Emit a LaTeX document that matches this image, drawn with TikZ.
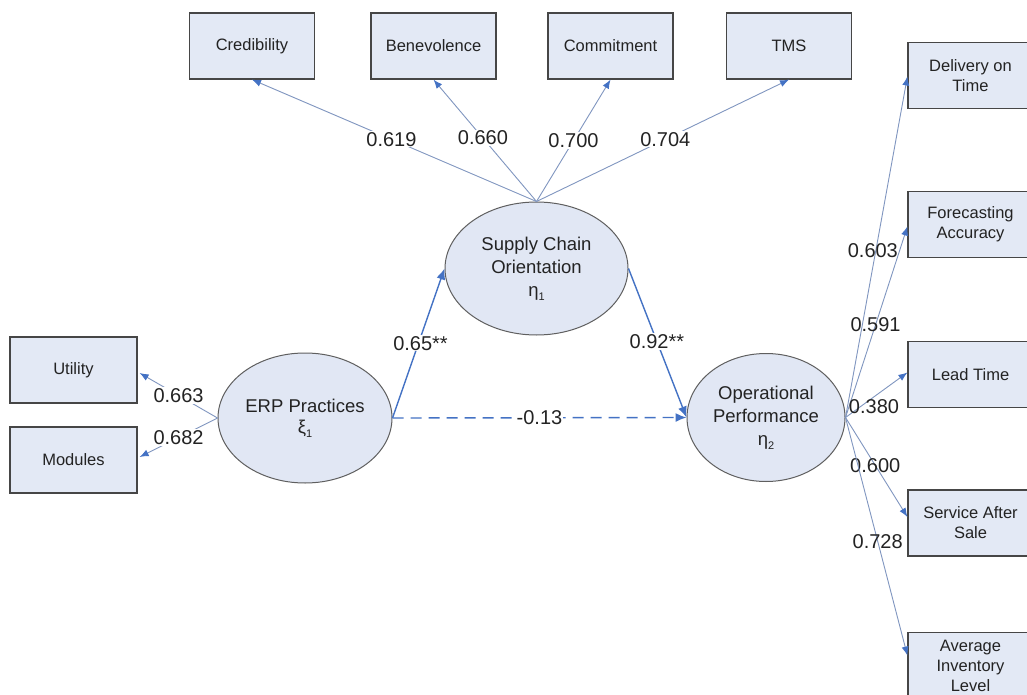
\documentclass[tikz,border=0pt]{standalone}
\usepackage{fontspec}
\setmainfont{Liberation Sans}
\usetikzlibrary{arrows.meta,calc,shapes.geometric}
\definecolor{boxfill}{RGB}{227,233,245}
\definecolor{ellfill}{RGB}{225,231,244}
\definecolor{boxline}{RGB}{70,70,70}
\definecolor{ellline}{RGB}{95,95,95}
\definecolor{thinline}{RGB}{128,150,192}
\definecolor{mainblue}{RGB}{68,114,196}
\definecolor{txt}{RGB}{35,35,35}
\newcommand{\mysub}[1]{\raisebox{-0.45ex}{\fontsize{11}{11}\selectfont #1}}
\begin{document}
\begin{tikzpicture}[x=1pt,y=-1pt,
  obs/.style={draw=boxline, line width=1.2pt, fill=boxfill, minimum width=125pt, minimum height=66pt,
    inner sep=0pt, align=center, font=\fontsize{16.5}{20}\selectfont, text=txt},
  lat/.style={ellipse, draw=ellline, line width=1pt, fill=ellfill, inner sep=0pt, align=center,
    font=\fontsize{18.5}{23}\selectfont, text=txt},
  load/.style={draw=thinline, line width=0.9pt, -{Latex[length=9pt,width=7pt,color=mainblue]}},
  path/.style={draw=mainblue, line width=1.4pt, -{Latex[length=11pt,width=9pt]}},
  lab/.style={font=\fontsize{20}{20}\selectfont, text=txt, fill=white, inner sep=1pt},
  labnf/.style={font=\fontsize{20}{20}\selectfont, text=txt, inner sep=1pt}
]
\useasboundingbox (0,0) rectangle (1027,695);
\fill[white] (0,0) rectangle (1027,695);
\clip (0,0) rectangle (1027,695);

% observed indicators (top)
\node[obs] (cred) at (252,46) {Credibility};
\node[obs] (bene) at (433.5,46) {Benevolence};
\node[obs] (comm) at (610.5,46) {Commitment};
\node[obs] (tms)  at (789,46) {TMS};

% observed indicators (left)
\node[obs, minimum width=127pt] (util) at (73.5,370) {Utility};
\node[obs, minimum width=127pt] (mod)  at (73.5,460) {Modules};

% observed indicators (right)
\node[obs] (del) at (970.5,75.5) {Delivery on\\Time};
\node[obs] (fc)  at (970.5,224.5) {Forecasting\\Accuracy};
\node[obs] (lt)  at (970.5,374.5) {Lead Time};
\node[obs] (sas) at (970.5,523) {Service After\\Sale};
\node[obs] (avg) at (970.5,665.5) {Average\\Inventory\\Level};

% latent variables
\node[lat, minimum width=174pt, minimum height=130pt] (erp) at (305,418) {ERP Practices\\[-2pt]ξ\mysub{1}};
\node[lat, minimum width=183pt, minimum height=133pt] (sco) at (536.5,268.5) {Supply Chain\\Orientation\\η\mysub{1}};
\node[lat, minimum width=158pt, minimum height=128pt] (op) at (766,417.5) {Operational\\Performance\\η\mysub{2}};

% loadings top
\draw[load] (sco.north) -- node[lab,pos=.51]{0.619} (cred.south);
\draw[load] (sco.north) -- node[lab,pos=.52]{0.660} (bene.south);
\draw[load] (sco.north) -- node[lab,pos=.50]{0.700} (comm.south);
\draw[load] (sco.north) -- node[lab,pos=.51]{0.704} (tms.south);

% loadings left
\draw[load] (erp.west) -- node[lab,pos=.5]{0.663} ($(util.east)+(2,3)$);
\draw[load] (erp.west) -- node[lab,pos=.5]{0.682} ($(mod.east)+(2,-3)$);

% loadings right
\draw[load] (op.east) -- node[labnf,pos=.49,xshift=-3pt]{0.603} ($(del.west)+(0,1)$);
\draw[load] (op.east) -- node[labnf,pos=.485]{0.591} ($(fc.west)+(0,2)$);
\draw[load] (op.east) -- node[labnf,pos=.46,yshift=-10pt]{0.380} ($(lt.west)+(0,-2)$);
\draw[load] (op.east) -- node[labnf,pos=.48]{0.600} ($(sas.west)+(0,-6)$);
\draw[load] (op.east) -- node[labnf,pos=.52]{0.728} ($(avg.west)+(0,-10)$);

% structural paths
\draw[path] (erp.east) -- node[lab,pos=.5,xshift=2pt]{0.65**} (sco.west);
\draw[path] (sco.east) -- node[lab,pos=.49]{0.92**} (op.west);
\draw[path, dash pattern=on 11pt off 7pt] (erp.east) -- node[lab,pos=.5]{-0.13} (op.west);
\end{tikzpicture}
\end{document}
